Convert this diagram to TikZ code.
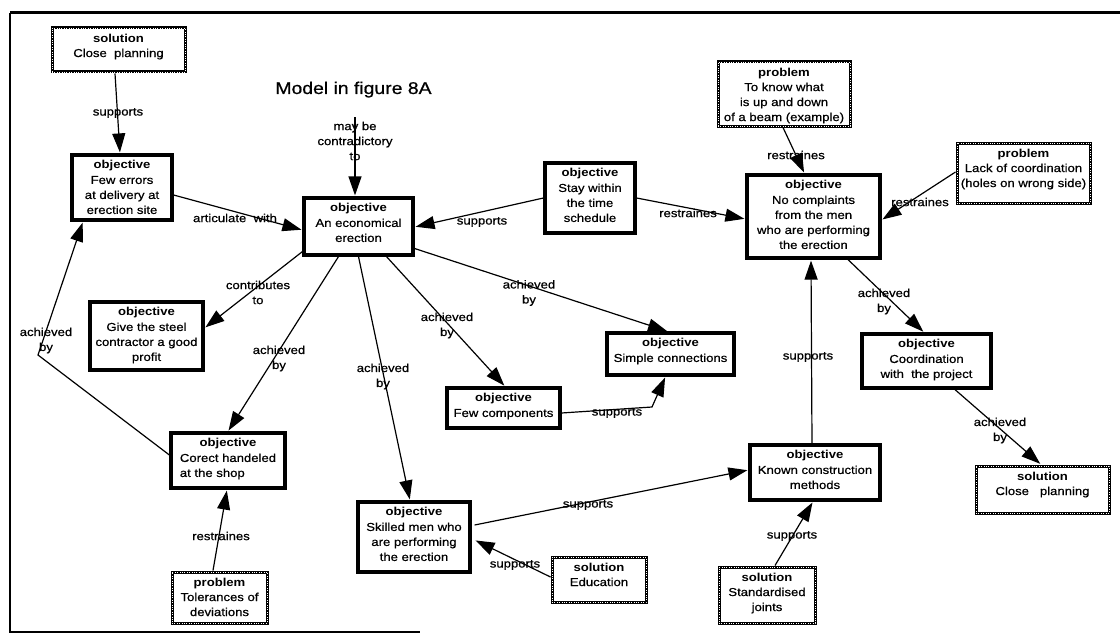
\documentclass[tikz,border=0pt]{standalone}
\usepackage{fontspec}
\setmainfont{Liberation Sans}[FakeStretch=1.14, UprightFeatures={FakeBold=0.7}]
\usetikzlibrary{arrows.meta,calc}
\tikzset{
  objbox/.style={draw, line width=3.2pt, inner sep=0pt},
  probbox/.style={draw, line width=3pt, inner sep=0pt,
    postaction={draw=white, line width=0.8pt, dash pattern=on 0.6pt off 1.8pt}},
  boxtxt/.style={inner sep=0pt, align=center, font=\fontsize{11.5}{15}\selectfont, anchor=north},
  elabel/.style={inner sep=0pt, align=center, font=\fontsize{11.5}{15}\selectfont},
  conn/.style={line width=1.2pt, shorten >=1pt, -{Triangle[length=19pt,width=13pt]}},
  frameline/.style={line width=2pt},
  titlefont/.style={font=\fontsize{17}{20}\selectfont},
}
\newcommand\cbox[8]{%
  \node[#2, minimum width=#5pt, minimum height=#6pt] (#1) at (#3,#4) {};
  \node[boxtxt] (#1-t) at ($(#1.north)+(0,7)$) {\textbf{#7}\\#8};
}
\begin{document}
\begin{tikzpicture}[x=1pt,y=-1pt]
\useasboundingbox (0,0) rectangle (1120,634);
% frame
\draw[line width=3pt] (1120,13) -- (10,13);
\draw[frameline] (10,13) -- (10,632) -- (420,632);
% title
\node[titlefont, anchor=base, inner sep=0pt] (title) at (353.5,94) {Model in figure 8A};
% boxes
\cbox{solc1}{probbox}{118.5}{50}{133}{44}{solution}{Close\ \ planning}
\cbox{errors}{objbox}{122}{187.5}{100}{65}{objective}{Few errors\\at delivery at\\erection site}
\cbox{econ}{objbox}{358.5}{226.5}{109}{57}{objective}{An economical\\erection}
\cbox{stay}{objbox}{590}{198}{90}{70}{objective}{Stay within\\the time\\schedule}
\cbox{know}{probbox}{784}{94}{132}{64}{problem}{To know what\\is up and down\\of a beam (example)}
\cbox{lack}{probbox}{1023.5}{173}{133}{60}{problem}{Lack of coordination\\(holes on wrong side)}
\cbox{nocompl}{objbox}{813.5}{216.5}{133}{83}{objective}{No complaints\\from the men\\who are performing\\the erection}
\cbox{give}{objbox}{146.5}{336}{113}{68}{objective}{Give the steel\\contractor a good\\profit}
\cbox{correct}{objbox}{228}{460.5}{114}{55}{objective}{Corect handeled\\\rlap{at the shop}\phantom{Corect handeled}}
\cbox{tol}{probbox}{219.5}{597.5}{95}{51}{problem}{Tolerances of\\deviations}
\cbox{skilled}{objbox}{414}{537}{112}{70}{objective}{Skilled men who\\are performing\\the erection}
\cbox{fewcomp}{objbox}{503.5}{408}{113}{40}{objective}{Few components}
\cbox{simple}{objbox}{670.5}{354}{127}{42}{objective}{Simple connections}
\cbox{edu}{probbox}{599}{579.5}{94}{45}{solution}{Education}
\cbox{known}{objbox}{815}{472.5}{130}{55}{objective}{Known construction\\methods}
\cbox{coord}{objbox}{926.5}{361}{129}{54}{objective}{Coordination\\with\ \ the project}
\cbox{solc2}{probbox}{1042.5}{489.5}{133}{47}{solution}{Close\ \ \ planning}
\cbox{std}{probbox}{767}{595}{96}{56}{solution}{Standardised\\joints}
% free coordinates and bends
\coordinate (cc) at (355,117);
\coordinate (bendA) at (652,407);
\coordinate (bendB) at (38,355);
% connectors
\draw[conn] ($(solc1.south)+(-3.5,0)$) -- ($(errors.north)+(-2,0)$);
\draw[conn] ($(errors.east)+(0,7.5)$) -- ($(econ.west)+(0,3.5)$);
\draw[conn] (cc) -- ($(econ.north)+(-3.5,0)$);
\draw[conn] (stay.west) -- ($(econ.east)+(0,0.5)$);
\draw[conn] (stay.east) -- ($(nocompl.west)+(0,2.5)$);
\draw[conn] ($(know.south)+(-1,0)$) -- ($(nocompl.north)+(-9,0)$);
\draw[conn] ($(lack.west)+(0,-1)$) -- ($(nocompl.east)+(0,3.5)$);
\draw[conn] ($(econ.south west)+(0,-5)$) -- ($(give.east)+(0,-8)$);
\draw[conn] ($(econ.south)+(-20,0)$) -- (correct.north);
\draw[conn] (econ.south) -- ($(skilled.north)+(-4,0)$);
\draw[conn] ($(econ.south)+(28,0)$) -- ($(fewcomp.north)+(1.5,0)$);
\draw[conn] ($(econ.east)+(0,22)$) -- ($(simple.north)+(-2.5,0)$);
\draw[conn] ($(fewcomp.east)+(0,5)$) -- (bendA) -- ($(simple.south)+(-5,0)$);
\draw[conn] ($(correct.west)+(0,-5.5)$) -- (bendB) -- ($(errors.south)+(-39,0)$);
\draw[conn] ($(tol.north)+(-6.5,0)$) -- ($(correct.south)+(-1,0)$);
\draw[conn] ($(skilled.east)+(3,-12)$) -- ($(known.west)+(0,-2.5)$);
\draw[conn] ($(edu.west)+(0,-2.5)$) -- ($(skilled.east)+(3,3)$);
\draw[conn] ($(std.north)+(8,0)$) -- ($(known.south)+(-2,0)$);
\draw[conn] ($(known.north)+(-3,0)$) -- ($(nocompl.south)+(-2.5,0)$);
\draw[conn] ($(nocompl.south)+(34.5,0)$) -- ($(coord.north)+(-2.5,0)$);
\draw[conn] ($(coord.south)+(28.5,0)$) -- ($(solc2.north)+(-1.5,0)$);
% connector labels
\node[elabel] (l1) at (118,113) {supports};
\node[elabel] (l2) at (235,218) {articulate\ \ with};
\node[elabel] (l3) at (355,141) {may be\\contradictory\\to};
\node[elabel] (l4) at (482,222) {supports};
\node[elabel] (l5) at (688,213) {restraines};
\node[elabel] (l6) at (796,155) {restraines};
\node[elabel] (l7) at (920,202) {restraines};
\node[elabel] (l8) at (258,292.5) {contributes\\to};
\node[elabel] (l9) at (279,358.5) {achieved\\by};
\node[elabel] (l10) at (383,376.5) {achieved\\by};
\node[elabel] (l11) at (447,325.5) {achieved\\by};
\node[elabel] (l12) at (529,293) {achieved\\by};
\node[elabel] (l13) at (617,413) {supports};
\node[elabel] (l14) at (46,340.5) {achieved\\by};
\node[elabel] (l15) at (221,536) {restraines};
\node[elabel] (l16) at (588,505) {supports};
\node[elabel] (l17) at (515,565) {supports};
\node[elabel] (l18) at (792,536) {supports};
\node[elabel] (l19) at (808,357) {supports};
\node[elabel] (l20) at (884,301.5) {achieved\\by};
\node[elabel] (l21) at (1000,430.5) {achieved\\by};
\end{tikzpicture}
\end{document}
